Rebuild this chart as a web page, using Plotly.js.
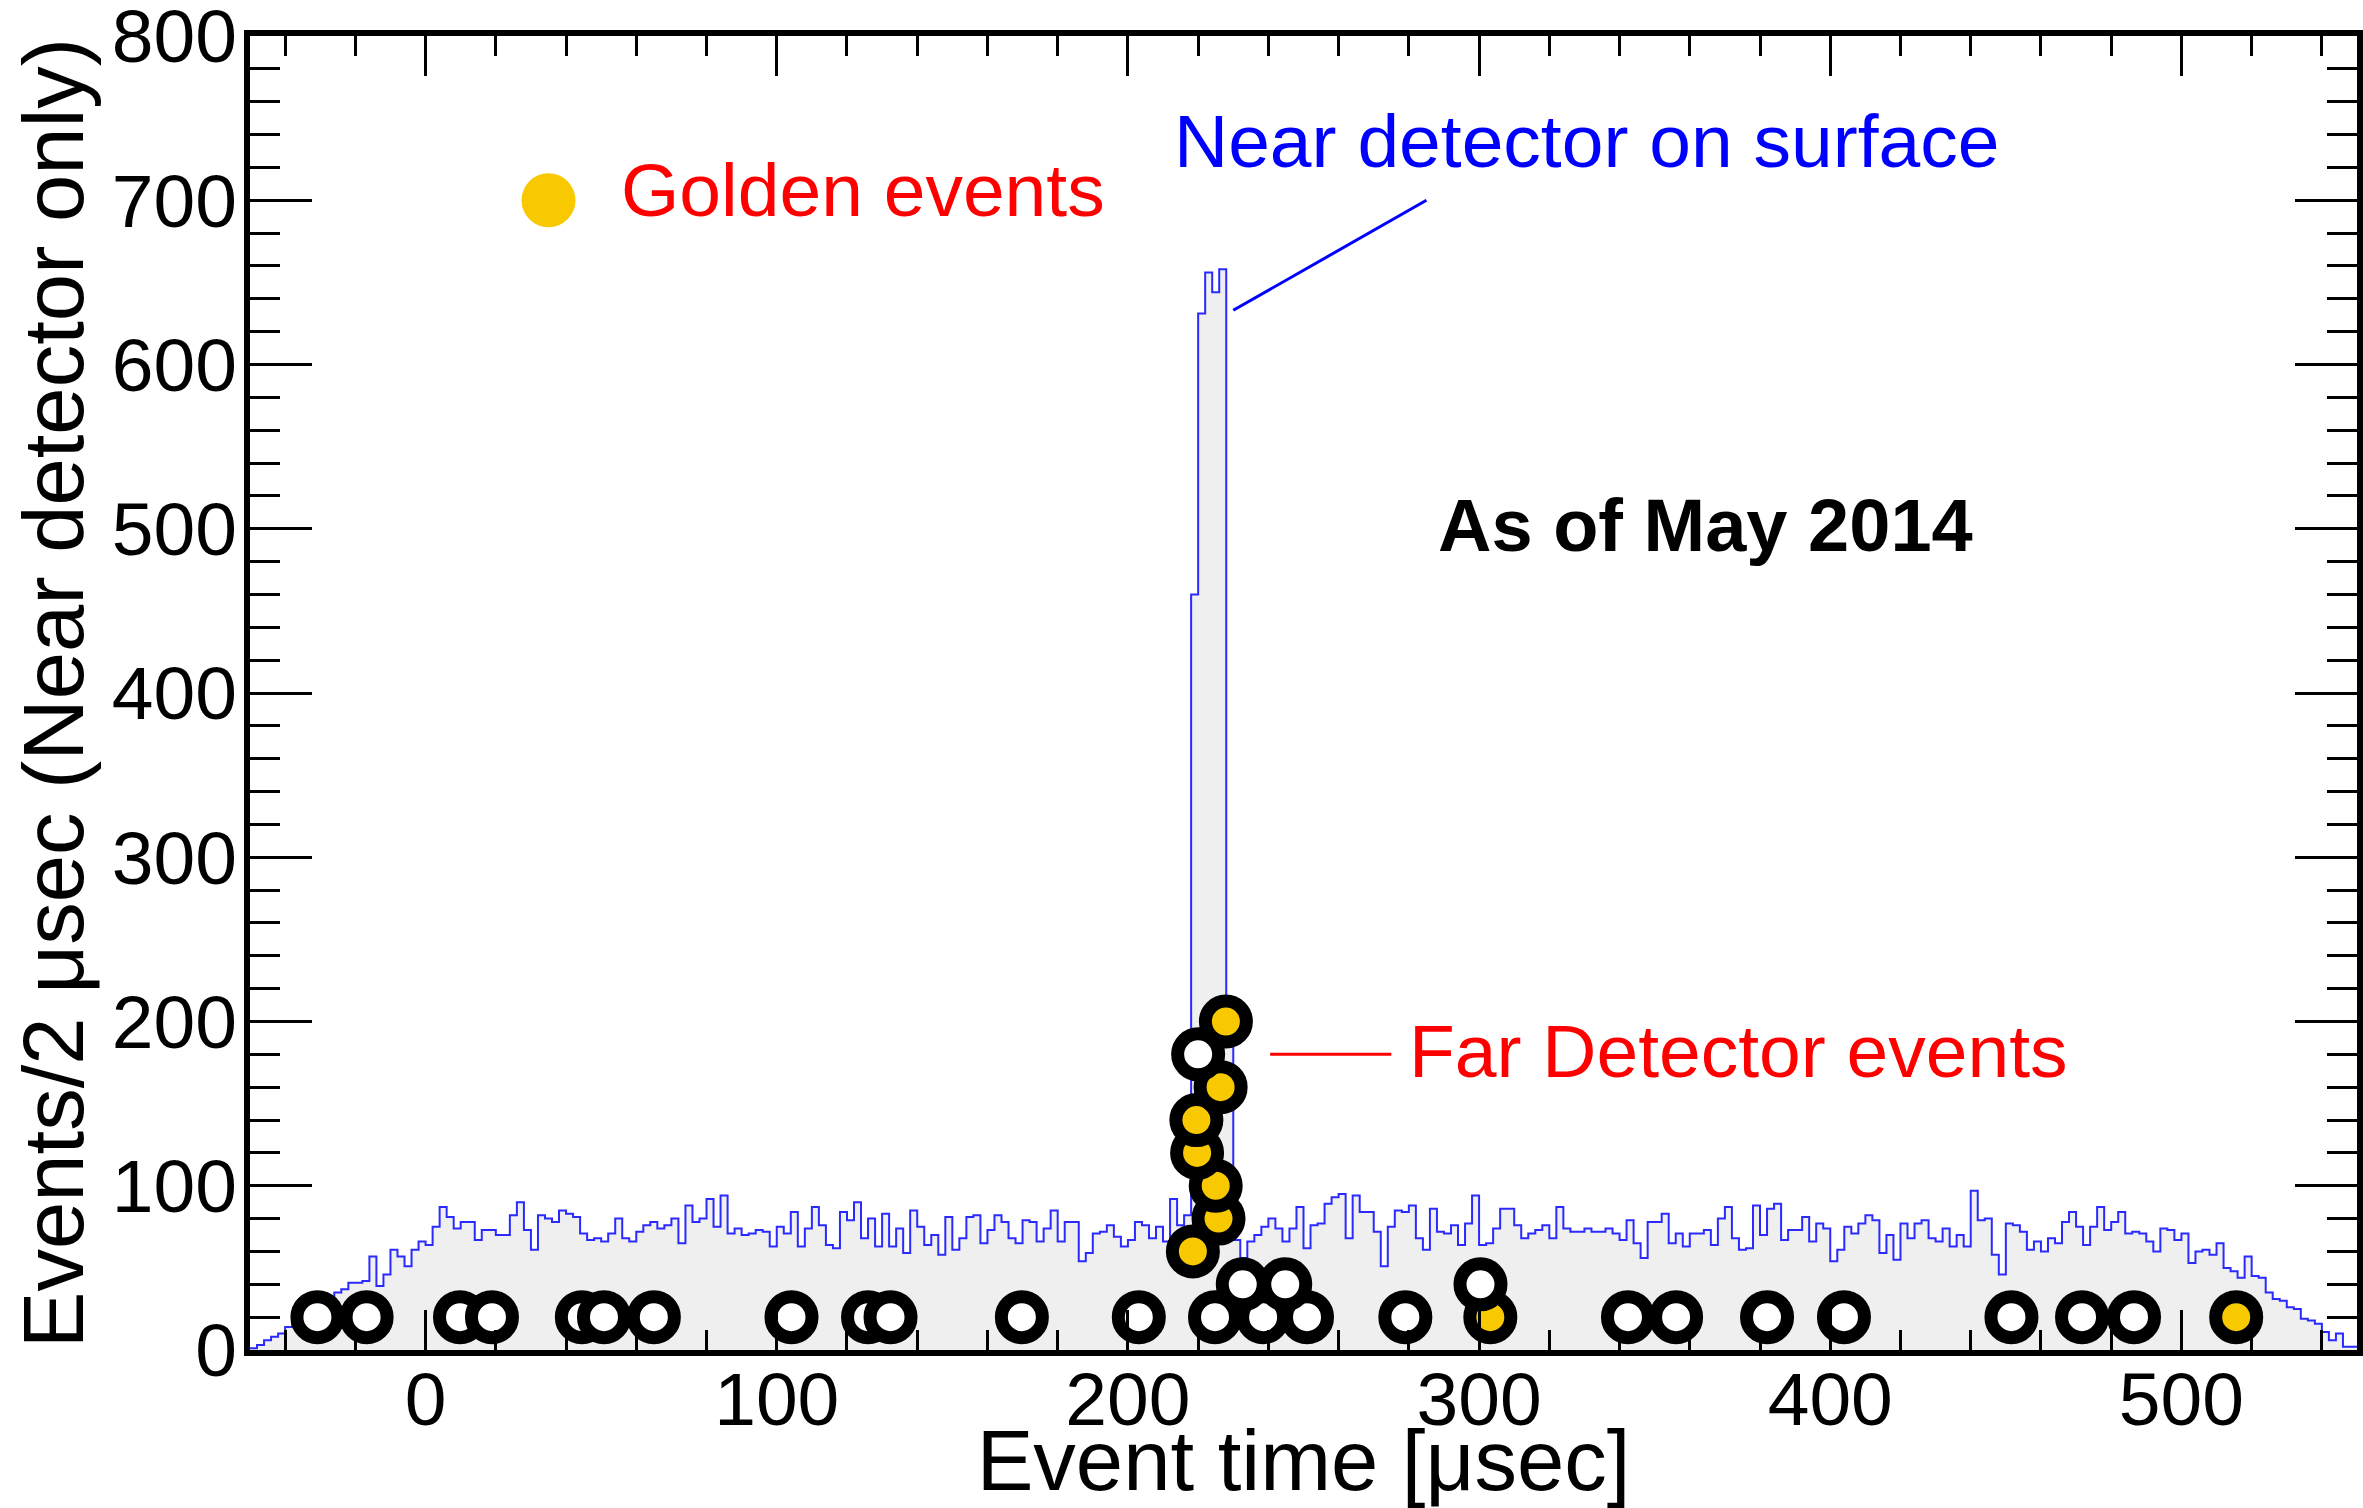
<!DOCTYPE html>
<html>
<head>
<meta charset="utf-8">
<script src="https://cdn.plot.ly/plotly-3.0.1.min.js"></script>
<style>
  html, body { margin: 0; padding: 0; background: #ffffff; }
  #chart { width: 2363px; height: 1508px; }
</style>
</head>
<body>
<div id="chart"></div>
<script>
// Near detector timing histogram: 2 usec bins starting at -50 usec
const binLow = -50;
const binWidth = 2;
const nearDetectorCounts = [
  // -50 .. -2
  1, 3, 6, 8, 10, 14, 16, 19, 22, 26, 29, 32, 35, 37, 41, 41, 42, 57, 39, 46, 61, 57, 51, 61, 66,
  // 0 .. 68
  64, 75, 87, 81, 74, 78, 78, 67, 73, 73, 70, 70, 82, 90, 73, 61, 82, 80, 78, 85, 83, 81, 71, 67, 68,
  66, 71, 80, 68, 66, 72, 76, 78, 74, 76,
  // 70 .. 188
  80, 65, 88, 78, 80, 92, 75, 94, 71, 74, 70, 71, 73, 72, 63, 75, 71, 84, 63, 74, 87, 76, 64, 62, 84,
  79, 90, 68, 80, 63, 83, 63, 74, 59, 85, 75, 64, 70, 58, 81, 61, 68, 81, 82, 65, 73, 82, 78, 68, 65,
  79, 78, 66, 74, 85, 66, 78, 78, 54, 59,
  // 190 .. 306
  71, 72, 76, 69, 63, 67, 78, 76, 68, 75, 66, 92, 76, 82, 460, 631, 656, 644, 658, 188, 67, 56, 66, 70, 75,
  80, 74, 66, 74, 87, 62, 76, 77, 89, 93, 95, 68, 94, 84, 84, 72, 51, 75, 85, 84, 88, 68, 61, 86, 72,
  71, 76, 64, 77, 94, 64, 65, 74, 86,
  // 308 .. 426
  86, 76, 68, 71, 73, 76, 68, 87, 74, 72, 72, 74, 72, 72, 74, 71, 67, 79, 65, 56, 78, 78, 83, 65, 71,
  63, 71, 71, 73, 64, 80, 87, 68, 61, 62, 88, 70, 86, 89, 67, 73, 73, 81, 66, 77, 74, 54, 61, 75, 71,
  77, 82, 79, 59, 70, 55, 77, 68, 77, 79,
  // 428 .. 548
  68, 66, 74, 63, 70, 63, 97, 79, 80, 58, 46, 77, 76, 72, 61, 66, 60, 68, 65, 78, 84, 75, 64, 75, 87,
  73, 78, 84, 71, 72, 71, 66, 60, 74, 73, 67, 71, 53, 60, 61, 58, 65, 50, 48, 44, 57, 45, 44, 35, 31,
  30, 26, 25, 19, 18, 16, 11, 6, 10, 2, 2
];

// Far Detector events: time [usec], stacked display level, golden flag
const fdTimes = [
  -30.8, -16.8, 9.8, 18.9, 44.5, 50.8, 65.0, 104.2, 126.0, 132.4, 169.8, 203.1, 224.8, 238.5, 251.0,
  279.0, 303.2, 342.4, 356.1, 382.0, 403.9, 451.6, 471.7, 486.5, 515.6,
  232.7, 244.8, 300.4,
  218.5, 225.8, 225.0, 219.7, 219.5, 226.4, 220.0, 227.9
];
const fdLevels = [
  20, 20, 20, 20, 20, 20, 20, 20, 20, 20, 20, 20, 20, 20, 20,
  20, 20, 20, 20, 20, 20, 20, 20, 20, 20,
  40, 40, 40,
  60, 80, 100, 120, 140, 160, 180, 200
];
const fdGolden = [
  0, 0, 0, 0, 0, 0, 0, 0, 0, 0, 0, 0, 0, 0, 0,
  0, 1, 0, 0, 0, 0, 0, 0, 0, 1,
  0, 0, 0,
  1, 1, 1, 1, 1, 1, 0, 1
];

// Legend key for golden events and label pointers (data coordinates)
const goldenKeyX = [35];
const goldenKeyY = [700];
const nearPointerX = [230, 285];
const nearPointerY = [633, 700];
const farPointerX = [240.5, 275];
const farPointerY = [180, 180];

const xTickValues = [0, 100, 200, 300, 400, 500];
const xTickLabels = ['0', '100', '200', '300', '400', '500'];
const yTickValues = [0, 100, 200, 300, 400, 500, 600, 700, 800];
const yTickLabels = ['0', '100', '200', '300', '400', '500', '600', '700', '800'];

const FONT = 'Liberation Sans, Arial, Helvetica, sans-serif';
const GOLD = '#f8c800';

// Step outline of the histogram: left bin edges plus the closing edge
const stepX = nearDetectorCounts.map((_, i) => binLow + i * binWidth)
  .concat([binLow + nearDetectorCounts.length * binWidth]);
const stepY = nearDetectorCounts.concat([nearDetectorCounts[nearDetectorCounts.length - 1]]);

const traces = [
  {
    type: 'scatter', mode: 'lines', x: stepX, y: stepY,
    line: { shape: 'hv', color: '#2a2aff', width: 2 },
    fill: 'tozeroy', fillcolor: '#efefef',
    hoverinfo: 'skip', showlegend: false
  },
  {
    type: 'scatter', mode: 'lines', x: nearPointerX, y: nearPointerY,
    line: { color: '#0000ff', width: 3 }, hoverinfo: 'skip', showlegend: false
  },
  {
    type: 'scatter', mode: 'lines', x: farPointerX, y: farPointerY,
    line: { color: '#ff0000', width: 3 }, hoverinfo: 'skip', showlegend: false
  },
  {
    type: 'scatter', mode: 'markers', x: goldenKeyX, y: goldenKeyY,
    marker: { symbol: 'circle', size: 54, color: GOLD, line: { width: 0 } },
    hoverinfo: 'skip', showlegend: false
  },
  {
    type: 'scatter', mode: 'markers', x: fdTimes, y: fdLevels,
    marker: {
      symbol: 'circle', size: 41,
      color: fdGolden.map(g => (g ? GOLD : '#ffffff')),
      line: { color: '#000000', width: 13 }
    },
    hoverinfo: 'x', showlegend: false
  }
];

const axisCommon = {
  showline: true, linecolor: '#000000', linewidth: 6, mirror: 'ticks',
  ticks: 'inside', tickcolor: '#000000', tickwidth: 3,
  showgrid: false, zeroline: false, fixedrange: true,
  ticklabeloverflow: 'allow',
  tickfont: { family: FONT, size: 75, color: '#000000' }
};

const layout = {
  width: 2363, height: 1508,
  margin: { l: 250, r: 6, t: 36, b: 158, pad: 0 },
  paper_bgcolor: '#ffffff', plot_bgcolor: '#ffffff',
  showlegend: false,
  font: { family: FONT, color: '#000000' },
  xaxis: Object.assign({}, axisCommon, {
    range: [-50, 550],
    tickmode: 'array', tickvals: xTickValues, ticktext: xTickLabels,
    ticklen: 40, ticklabelstandoff: -21,
    minor: { tickmode: 'linear', tick0: 0, dtick: 20, ticks: 'inside', ticklen: 20, tickwidth: 3, tickcolor: '#000000' },
    title: { text: 'Event time [μsec]', font: { family: FONT, size: 85, color: '#000000' }, standoff: 20 }
  }),
  yaxis: Object.assign({}, axisCommon, {
    range: [0, 800],
    tickmode: 'array', tickvals: yTickValues, ticktext: yTickLabels,
    ticklen: 62, ticklabelstandoff: -8,
    minor: { tickmode: 'linear', tick0: 0, dtick: 20, ticks: 'inside', ticklen: 30, tickwidth: 3, tickcolor: '#000000' },
    title: { text: 'Events/2 μsec (Near detector only)', font: { family: FONT, size: 85, color: '#000000' }, standoff: 2 }
  }),
  annotations: [
    { text: 'Golden events', x: 55, y: 706, xref: 'x', yref: 'y', xanchor: 'left', yanchor: 'middle',
      showarrow: false, font: { family: FONT, size: 75, color: '#ff0000' } },
    { text: 'Near detector on surface', x: 212.6, y: 736, xref: 'x', yref: 'y', xanchor: 'left', yanchor: 'middle',
      showarrow: false, font: { family: FONT, size: 75, color: '#0000ff' } },
    { text: '<b>As of May 2014</b>', x: 287.7, y: 502, xref: 'x', yref: 'y', xanchor: 'left', yanchor: 'middle',
      showarrow: false, font: { family: FONT, size: 74, color: '#000000' } },
    { text: 'Far Detector events', x: 279.6, y: 182, xref: 'x', yref: 'y', xanchor: 'left', yanchor: 'middle',
      showarrow: false, font: { family: FONT, size: 75, color: '#ff0000' } }
  ]
};

Plotly.newPlot('chart', traces, layout, { staticPlot: true, displayModeBar: false });
</script>
</body>
</html>
